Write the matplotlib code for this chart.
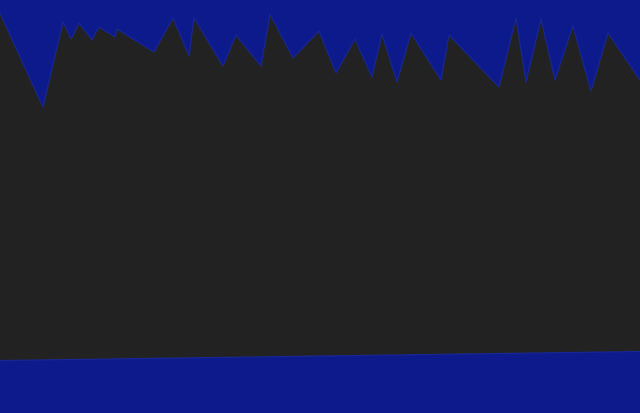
import numpy as np
import matplotlib
matplotlib.use("Agg")
import matplotlib.pyplot as plt

# upper edge of the dark area (x position, value)
top_x = [0, 43, 63, 71, 79, 92, 99, 115, 117, 154, 173, 189, 194, 223, 236,
         261, 270, 293, 319, 336, 355, 372, 382, 397, 411, 441, 449, 499, 516,
         526, 541, 555, 573, 591, 608, 640]
top_y = [400, 306, 391, 374, 390, 373, 386, 376, 384, 361, 395, 357, 395, 347,
         378, 347, 399, 355, 382, 340, 374, 336, 379, 331, 380, 333, 378, 326,
         395, 331, 394, 333, 387, 322, 380, 333]

# lower edge (straight baseline)
base_x = [0, 640]
base_y = [52.5, 61.5]

blue = '#0c1a8c'
dark = '#222222'

fig = plt.figure(figsize=(6.4, 4.13), dpi=100, facecolor=blue)
ax = fig.add_axes([0, 0, 1, 1])
ax.set_facecolor(blue)

poly_x = list(top_x) + base_x[::-1]
poly_y = list(top_y) + base_y[::-1]
ax.fill(poly_x, poly_y, color=dark, linewidth=0)
ax.plot(top_x, top_y, color='#1a2896', linewidth=0.8)
ax.plot(base_x, base_y, color='#1a2896', linewidth=0.8)

ax.set_xlim(0, 640)
ax.set_ylim(0, 413)
ax.axis('off')

fig.savefig('out.png', dpi=100, facecolor=blue)
